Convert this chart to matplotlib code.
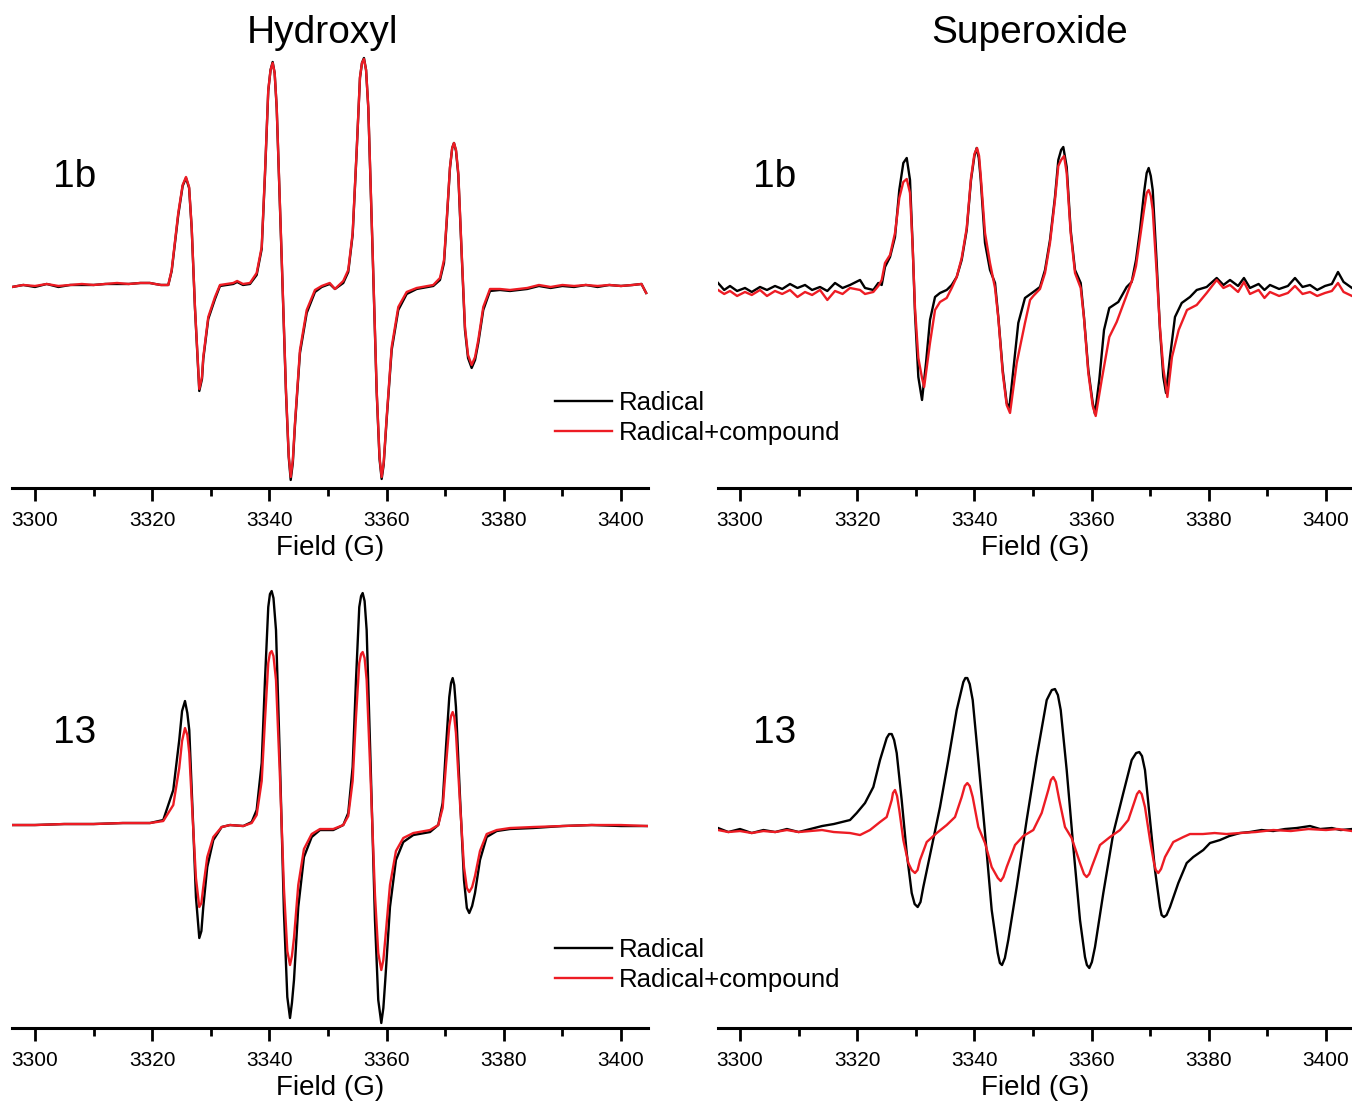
import matplotlib
matplotlib.use("Agg")
import matplotlib.pyplot as plt
from matplotlib.ticker import MultipleLocator

plt.rcParams['font.family'] = ['Liberation Sans', 'DejaVu Sans']

# ---- Hydroxyl, 1b (black and red almost on top of each other) ----
oh_1b_field = [3296.1, 3298, 3300, 3302, 3304, 3306, 3308, 3310, 3312, 3314, 3316, 3318,
               3319.6, 3320.5, 3321.5, 3322.75, 3323.33, 3324.45, 3325.2, 3325.77, 3326.3,
               3326.74, 3327.3, 3328.04, 3328.5, 3328.72, 3329.57, 3330.72, 3331.57, 3333.84,
               3334.5, 3335.5, 3336.69, 3337.83, 3338.69, 3339.25, 3339.81, 3340.2, 3340.56,
               3340.9, 3341.25, 3342.1, 3342.83, 3343.3, 3343.64, 3344.0, 3344.37, 3345.22,
               3346.37, 3347.78, 3348.93, 3350.3, 3351.19, 3352.61, 3353.46, 3354.21, 3354.9,
               3355.46, 3355.8, 3356.14, 3356.5, 3356.88, 3357.63, 3358.31, 3358.8, 3359.16,
               3359.5, 3360.02, 3360.87, 3362.0, 3363.43, 3365.14, 3367.97, 3369.11, 3369.8,
               3370.26, 3370.82, 3371.2, 3371.5, 3371.85, 3372.24, 3372.82, 3373.38, 3373.9,
               3374.52, 3375.1, 3375.65, 3376.5, 3377.65, 3379.35, 3381.06, 3384, 3386, 3388,
               3390, 3392, 3394, 3396, 3398, 3400, 3402, 3403.5, 3404.3]
oh_1b_compound = [-2, 0, -1, 1, -1, 0, 1, 0, 1, 2, 1, 2,
                  2, 1, 0, 0, 15, 72, 100, 108, 98,
                  58, -22, -104, -92, -72, -32, -12, 0, 2,
                  4, 1, 2, 12, 38, 112, 195, 215, 222,
                  212, 178, 28, -105, -170, -192, -175, -138, -65,
                  -25, -5, -1, 2, -4, 4, 15, 52, 135,
                  208, 222, 226, 215, 178, 32, -105, -172, -192,
                  -178, -132, -62, -22, -7, -3, 0, 7, 25,
                  65, 118, 137, 142, 135, 112, 32, -42, -70,
                  -80, -72, -55, -22, -4, -4, -5, -3, 0, -2,
                  0, -1, 0, -1, 0, -1, 0, 1, -8]
oh_1b_radical = [-2, 0, -2, 1, -2, 0, 0, 0, 1, 1, 1, 2,
                 2, 1, 0, 0, 14, 70, 99, 107, 97,
                 57, -23, -106, -94, -74, -34, -14, -1, 1,
                 3, 0, 1, 10, 36, 110, 194, 215, 223,
                 212, 177, 26, -107, -172, -195, -178, -140, -68,
                 -28, -7, -2, 1, -4, 2, 13, 50, 134,
                 207, 222, 227, 215, 177, 30, -107, -174, -194,
                 -180, -134, -65, -25, -9, -4, -1, 5, 22,
                 63, 117, 137, 142, 134, 110, 30, -45, -73,
                 -83, -75, -58, -25, -6, -5, -6, -4, -1, -3,
                 -1, -2, 0, -2, 0, -1, 0, 1, -8]

# ---- Hydroxyl, 13 ----
oh_13_field = [3296.1, 3300, 3305, 3310, 3315, 3319.62, 3321.89, 3323.6, 3324.62, 3325.1,
               3325.6, 3326.0, 3326.33, 3326.91, 3327.47, 3328.04, 3328.4, 3328.72, 3329.4,
               3330.43, 3331.86, 3333.28, 3335.55, 3336.98, 3337.83, 3338.69, 3339.25, 3339.81,
               3340.1, 3340.39, 3340.7, 3341.13, 3341.81, 3342.49, 3343.06, 3343.52, 3343.85,
               3344.2, 3344.93, 3345.9, 3347.22, 3348.63, 3350.9, 3352.61, 3353.46, 3354.21,
               3354.78, 3355.34, 3355.65, 3355.92, 3356.25, 3356.6, 3357.29, 3358.02, 3358.58,
               3359.1, 3359.45, 3359.78, 3360.58, 3361.6, 3362.85, 3364.56, 3367.41, 3368.82,
               3369.57, 3370.14, 3370.7, 3371.0, 3371.28, 3371.55, 3371.84, 3372.53, 3373.21,
               3373.7, 3374.11, 3374.6, 3375.09, 3375.94, 3377.08, 3378.79, 3381.06, 3385,
               3390, 3395, 3400, 3404.5]
oh_13_radical = [-2, -2, -1, -1, 0, 0, 3, 33, 83, 112,
                 122, 110, 93, 10, -74, -115, -108, -84, -44,
                 -17, -4, -2, -3, 1, 13, 60, 143, 216,
                 229, 232, 225, 193, 60, -90, -174, -195, -180,
                 -157, -84, -34, -14, -7, -7, -2, 10, 56,
                 143, 216, 227, 230, 222, 193, 56, -97, -177,
                 -200, -185, -157, -84, -37, -19, -12, -9, -2,
                 20, 76, 126, 140, 145, 138, 116, 26, -57,
                 -85, -90, -83, -70, -37, -14, -8, -6, -5,
                 -3, -2, -3, -3]
oh_13_compound = [-2, -2, -1, -1, 0, 0, 2, 18, 55, 82,
                  95, 88, 70, 5, -55, -84, -80, -64, -34,
                  -14, -4, -2, -3, 0, 8, 42, 103, 160,
                  170, 172, 167, 143, 45, -66, -128, -142, -133,
                  -115, -62, -26, -11, -6, -6, -2, 7, 42,
                  106, 160, 169, 171, 165, 143, 42, -72, -130,
                  -147, -137, -116, -62, -28, -15, -10, -7, -2,
                  15, 58, 97, 107, 111, 106, 90, 20, -44,
                  -65, -69, -64, -53, -28, -11, -7, -5, -4,
                  -3, -2, -2, -3]

# ---- Superoxide, 1b ----
so_1b_radical_field = [3296.25, 3297.3, 3298.29, 3299.5, 3300.85, 3302.0, 3303.41, 3304.6, 3305.97,
                       3307.2, 3308.53, 3309.8, 3311.09, 3312.3, 3313.65, 3314.9, 3316.21, 3317.5,
                       3318.77, 3320.48, 3321.33, 3322.75, 3323.6, 3324.18, 3324.74, 3325.6, 3326.45,
                       3327.18, 3327.87, 3328.45, 3329.01, 3329.47, 3329.86, 3330.43, 3331.06, 3331.74,
                       3332.42, 3333.28, 3334.13, 3335.27, 3336.13, 3336.98, 3337.83, 3338.69, 3339.42,
                       3340.0, 3340.39, 3340.75, 3341.08, 3341.81, 3342.66, 3343.52, 3344.08, 3344.83,
                       3345.51, 3345.96, 3346.64, 3347.49, 3348.63, 3350.05, 3351.19, 3352.05, 3352.9,
                       3353.75, 3354.32, 3354.8, 3355.17, 3355.75, 3356.43, 3357.17, 3358.14, 3358.7,
                       3359.44, 3360.19, 3360.58, 3361.31, 3362.12, 3363.02, 3364.56, 3365.99, 3366.84,
                       3367.58, 3368.26, 3368.94, 3369.4, 3369.74, 3370.1, 3370.43, 3371.11, 3371.67,
                       3372.24, 3372.7, 3373.38, 3374.23, 3375.38, 3376.79, 3377.94, 3379.64, 3381.35,
                       3382.5, 3383.62, 3385.0, 3386.0, 3387.03, 3388.5, 3389.5, 3390.44, 3392.0,
                       3393.5, 3394.71, 3396.0, 3397.27, 3398.5, 3399.83, 3401.0, 3402.05, 3403.0,
                       3404.44]
so_1b_radical = [5, -2, 2, -3, 0, -4, 1, -2, 2,
                 -1, 4, 0, 3, -2, 1, -3, 5, 0,
                 3, 8, 0, -2, 5, 3, 21, 31, 51,
                 98, 125, 130, 108, 41, -25, -89, -112, -75,
                 -32, -9, -5, -2, 3, 11, 28, 58, 108,
                 132, 140, 130, 108, 45, 18, 5, -29, -82,
                 -115, -120, -82, -35, -10, -4, 1, 18, 48,
                 91, 128, 138, 141, 121, 58, 18, 5, -29,
                 -82, -115, -126, -92, -42, -20, -14, 1, 6,
                 28, 58, 95, 115, 120, 112, 98, 25, -42,
                 -89, -105, -69, -29, -15, -9, -2, 1, 10,
                 3, 8, 2, 10, 0, 4, -2, 3, -1,
                 2, 10, 1, 3, -2, 2, 4, 16, 6,
                 0]
so_1b_compound_field = [3296.25, 3297.3, 3298.29, 3299.5, 3300.85, 3302.0, 3303.41, 3304.6, 3305.97,
                        3307.2, 3308.53, 3309.8, 3311.09, 3312.3, 3313.65, 3314.9, 3316.21, 3317.5,
                        3318.77, 3320.48, 3321.33, 3322.75, 3323.6, 3324.18, 3324.74, 3325.6, 3326.45,
                        3327.18, 3327.87, 3328.45, 3329.01, 3329.47, 3329.86, 3330.43, 3331.06, 3331.42,
                        3332.42, 3333.28, 3334.13, 3335.27, 3336.13, 3336.98, 3337.83, 3338.69, 3339.42,
                        3340.0, 3340.45, 3340.8, 3341.08, 3341.81, 3342.66, 3343.52, 3344.08, 3344.83,
                        3345.51, 3346.08, 3347.22, 3348.63, 3349.5, 3350.05, 3351.19, 3352.05, 3352.9,
                        3353.75, 3354.32, 3354.8, 3355.3, 3355.75, 3356.43, 3357.17, 3358.14, 3358.7,
                        3359.44, 3360.19, 3360.7, 3361.72, 3363.02, 3364.28, 3365.87, 3367.12, 3367.58,
                        3368.26, 3368.94, 3369.4, 3369.74, 3370.1, 3370.43, 3371.11, 3371.67, 3372.24,
                        3372.93, 3373.72, 3374.86, 3376.28, 3377.94, 3379.64, 3381.35, 3382.5, 3383.62,
                        3385.0, 3386.0, 3387.03, 3388.5, 3389.5, 3390.44, 3392.0, 3393.5, 3394.71,
                        3396.0, 3397.27, 3398.5, 3399.83, 3401.0, 3402.05, 3403.0, 3404.44]
so_1b_compound = [-2, -6, -3, -8, -4, -7, -2, -8, -3,
                  -6, -2, -9, -4, -7, -2, -12, -3, -6,
                  0, -2, -6, -4, 2, 8, 25, 33, 55,
                  90, 106, 109, 95, 40, -20, -70, -90, -99,
                  -55, -22, -14, -10, 0, 11, 30, 60, 110,
                  134, 140, 132, 112, 55, 25, 0, -30, -85,
                  -117, -125, -75, -35, -12, -8, -1, 15, 45,
                  88, 122, 128, 132, 115, 55, 15, 0, -30,
                  -85, -118, -128, -92, -49, -34, -9, 11, 22,
                  50, 78, 95, 98, 92, 78, 15, -40, -80,
                  -109, -69, -42, -22, -17, -5, 8, 0, 3,
                  -4, 6, -6, -2, -10, -4, -8, -5, 2,
                  -6, -4, -8, -5, -3, 5, -4, -8]

# ---- Superoxide, 13 ----
so_13_radical_field = [3296.25, 3298, 3300, 3302, 3304, 3306, 3308, 3310, 3312, 3314, 3316,
                       3318.77, 3319.91, 3321.33, 3322.75, 3323.89, 3325.03, 3325.45, 3325.89,
                       3326.3, 3326.74, 3327.59, 3328.45, 3329.3, 3329.8, 3330.32, 3330.8,
                       3331.28, 3332.71, 3334.13, 3335.55, 3336.98, 3338.11, 3338.45, 3338.79,
                       3339.2, 3339.71, 3340.67, 3341.81, 3342.95, 3343.98, 3344.35, 3344.71,
                       3345.2, 3345.78, 3347.22, 3348.92, 3350.63, 3352.34, 3353.2, 3353.75,
                       3354.25, 3354.73, 3355.75, 3356.88, 3358.02, 3358.87, 3359.2, 3359.61,
                       3360.05, 3360.58, 3362.0, 3363.71, 3365.41, 3366.84, 3367.6, 3368.14,
                       3368.6, 3369.11, 3369.97, 3370.82, 3371.67, 3371.95, 3372.35, 3372.8,
                       3373.38, 3374.8, 3376.23, 3377.35, 3379.06, 3380.2, 3381.91, 3383.5,
                       3385.32, 3387, 3389, 3391, 3393, 3395, 3397.27, 3399, 3401, 3402.5, 3404.44]
so_13_radical = [2, -2, 1, -3, 0, -2, 1, -2, 1, 4, 6,
                 10, 17, 27, 43, 70, 92, 96, 96,
                 90, 77, 30, -23, -63, -74, -77, -72,
                 -57, -17, 23, 70, 120, 148, 152, 152,
                 146, 130, 70, -3, -80, -123, -133, -135,
                 -128, -110, -57, 10, 73, 130, 140, 141,
                 135, 120, 60, -17, -90, -127, -135, -138,
                 -132, -117, -63, -3, 37, 70, 77, 78,
                 74, 60, 10, -40, -77, -85, -87, -85,
                 -77, -53, -33, -27, -20, -13, -10, -6,
                 -3, -2, 0, -1, 1, 2, 4, 1, 2, 0, 1]
so_13_compound_field = [3296.25, 3298, 3300, 3302, 3304, 3306, 3308, 3310, 3312, 3314, 3316,
                        3318.77, 3320.48, 3322.18, 3323.89, 3325.03, 3325.89, 3326.1, 3326.45,
                        3326.8, 3327.18, 3327.87, 3328.72, 3329.3, 3329.86, 3330.3, 3330.72,
                        3331.86, 3333.57, 3335.27, 3336.69, 3337.83, 3338.35, 3338.79, 3339.2,
                        3339.71, 3340.67, 3341.81, 3342.95, 3344.0, 3344.49, 3344.95, 3345.51,
                        3346.93, 3348.34, 3350.05, 3351.48, 3352.61, 3353.05, 3353.46, 3353.9,
                        3354.49, 3355.46, 3356.6, 3358.02, 3358.7, 3359.16, 3359.6, 3360.02,
                        3361.43, 3363.14, 3364.85, 3366.26, 3367.24, 3367.75, 3368.14, 3368.55,
                        3369.11, 3369.97, 3370.65, 3370.95, 3371.38, 3371.85, 3372.53, 3373.94,
                        3375.65, 3376.79, 3379, 3381, 3383, 3385.32, 3388, 3391, 3394, 3397,
                        3400, 3402, 3404.44]
so_13_compound = [0, -2, -1, -3, -1, -2, 0, -2, -1, 0, -2,
                  -3, -5, 0, 8, 13, 30, 37, 40,
                  34, 20, -10, -33, -40, -43, -40, -30,
                  -12, -3, 5, 13, 33, 44, 47, 44,
                  33, 3, -13, -37, -48, -51, -47, -37,
                  -15, -6, 0, 17, 40, 50, 53, 48,
                  30, 3, -8, -33, -44, -47, -44, -37,
                  -15, -7, 0, 10, 27, 36, 39, 36,
                  23, -10, -33, -40, -43, -39, -27, -12,
                  -7, -4, -4, -3, -4, -3, -2, 0, -1, 1,
                  0, 1, -1]

major_ticks = [3300, 3320, 3340, 3360, 3380, 3400]
legend_labels = ["Radical", "Radical+compound"]
column_titles = ["Hydroxyl", "Superoxide"]

RED = "#ed1c24"
W, H = 1352, 1106

fig = plt.figure(figsize=(13.52, 11.06), dpi=100)

# [left, bottom, width, height], xlim, ylim, curves, sample label, label pixel pos, legend pixel pos
panels = [
    ([0.00888, 0.5588, 0.4704, 0.3960], (3296.08, 3404.61), (-203, 235),
     oh_1b_field, oh_1b_radical, oh_1b_field, oh_1b_compound, "1b", (75, 177), (555, 391)),
    ([0.5311, 0.5588, 0.4689, 0.3960], (3296.25, 3404.44), (-200, 238),
     so_1b_radical_field, so_1b_radical, so_1b_compound_field, so_1b_compound, "1b", (775, 177), None),
    ([0.00888, 0.07052, 0.4704, 0.4005], (3296.08, 3404.61), (-205, 238),
     oh_13_field, oh_13_radical, oh_13_field, oh_13_compound, "13", (75, 733), (555, 938)),
    ([0.5311, 0.07052, 0.4689, 0.4005], (3296.25, 3404.44), (-198, 245),
     so_13_radical_field, so_13_radical, so_13_compound_field, so_13_compound, "13", (775, 733), None),
]

for rect, xl, yl, fb, yb, fr, yr, lab, lab_px, leg_px in panels:
    ax = fig.add_axes(rect)
    l1, = ax.plot(fb, yb, color="black", lw=1.7, label=legend_labels[0])
    l2, = ax.plot(fr, yr, color=RED, lw=1.7, label=legend_labels[1])
    ax.set_xlim(*xl)
    ax.set_ylim(*yl)
    for s in ["top", "left", "right"]:
        ax.spines[s].set_visible(False)
    ax.spines["bottom"].set_linewidth(2.2)
    ax.set_yticks([])
    ax.set_xticks(major_ticks)
    ax.xaxis.set_minor_locator(MultipleLocator(10))
    ax.tick_params(axis="x", which="major", direction="out", length=9.5, width=2,
                   labelsize=15, pad=7)
    ax.tick_params(axis="x", which="minor", direction="out", length=6, width=2)
    ax.set_xlabel("Field (G)", fontsize=20, labelpad=4)
    ax.patch.set_visible(False)
    fig.text(lab_px[0] / W, 1 - lab_px[1] / H, lab, fontsize=28, ha="center", va="center")
    if leg_px is not None:
        ax.legend(handles=[l1, l2], loc="upper left", frameon=False, fontsize=18.5,
                  handlelength=2.2, handletextpad=0.3, labelspacing=0.22,
                  borderpad=0, borderaxespad=0,
                  bbox_to_anchor=(leg_px[0] / W, 1 - leg_px[1] / H),
                  bbox_transform=fig.transFigure)

fig.text(323 / W, 1 - 33 / H, column_titles[0], fontsize=28, ha="center", va="center")
fig.text(1030 / W, 1 - 33 / H, column_titles[1], fontsize=28, ha="center", va="center")

fig.savefig("out.png", dpi=100)
